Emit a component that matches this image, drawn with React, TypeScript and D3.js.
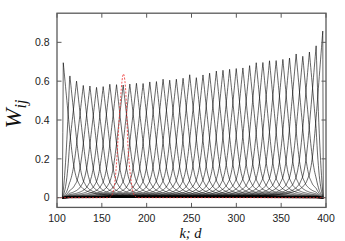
import React, { useEffect, useRef } from 'react';
import * as d3 from 'd3';

const WIDTH = 345;
const HEIGHT = 241;

// black peaks: centre (k) and height (W)
const peakCenters = [
  107.0, 114.4, 121.8, 129.3, 136.7, 144.1, 151.5, 158.9, 166.4, 173.8,
  181.2, 188.6, 196.0, 203.5, 210.9, 218.3, 225.7, 233.1, 240.6, 248.0,
  255.4, 262.8, 270.2, 277.7, 285.1, 292.5, 299.9, 307.3, 314.8, 322.2,
  329.6, 337.0, 344.4, 351.9, 359.3, 366.7, 374.1, 381.5, 389.0, 396.4,
];
const peakHeights = [
  0.695, 0.627, 0.600, 0.578, 0.575, 0.568, 0.572, 0.584, 0.582, 0.580,
  0.585, 0.589, 0.588, 0.596, 0.598, 0.610, 0.605, 0.610, 0.615, 0.633,
  0.618, 0.632, 0.641, 0.652, 0.656, 0.661, 0.665, 0.668, 0.680, 0.695,
  0.696, 0.705, 0.706, 0.712, 0.719, 0.740, 0.728, 0.750, 0.782, 0.858,
];

// shape of one peak: distance from its centre (in peak spacings) -> fraction of its height
const profileOffsets = [0, 0.25, 0.5, 0.75, 1, 1.25, 1.5, 1.75, 2, 2.5, 3, 3.5, 4, 5, 6, 8, 10, 15, 20, 40];
const profileValues = [1, 0.87, 0.74, 0.61, 0.48, 0.36, 0.26, 0.19, 0.14, 0.09, 0.065, 0.05, 0.04, 0.028, 0.02, 0.012, 0.008, 0.004, 0.002, 0.0005];

// range of k the black curves are defined on
const kLimits = [106, 397];

// red dashed curve
const redK = [100, 158, 161, 163, 165, 167, 169, 171, 172.5, 174, 175.5, 177, 178, 179, 180.5, 182, 183.5, 185, 187, 190, 400];
const redW = [0, 0, 0.01, 0.04, 0.1, 0.22, 0.38, 0.52, 0.6, 0.637, 0.61, 0.52, 0.4, 0.28, 0.18, 0.11, 0.06, 0.025, 0.008, 0, 0];

const xTicks = [100, 150, 200, 250, 300, 350, 400];
const yTicks = [0, 0.2, 0.4, 0.6, 0.8];
const yTickLabels = ['0', '0.2', '0.4', '0.6', '0.8'];

const App: React.FC = () => {
  const svgRef = useRef<SVGSVGElement>(null);

  useEffect(() => {
    if (!svgRef.current) return;
    const svg = d3.select(svgRef.current);
    svg.selectAll('*').remove();

    const left = 57, right = 326, top = 13.2, bottom = 207.4;

    const x = d3.scaleLinear().domain([100, 400]).range([left, right]);
    const y = d3.scaleLinear().domain([-0.05, 0.95]).range([bottom, top]);

    const spacing = (peakCenters[peakCenters.length - 1] - peakCenters[0]) / (peakCenters.length - 1);
    const profile = d3.scaleLinear().domain(profileOffsets).range(profileValues).clamp(true);
    const taperLen = 8;

    const line = d3.line<[number, number]>()
      .x(d => x(d[0]))
      .y(d => y(d[1]));

    const curves = svg.append('g');

    peakCenters.forEach((c, i) => {
      const h = peakHeights[i];
      const tl = Math.min(taperLen, c - kLimits[0]);
      const tr = Math.min(taperLen, kLimits[1] - c);
      const ks = d3.range(kLimits[0], kLimits[1], 0.5).concat([c, kLimits[1]]).sort((a, b) => a - b);
      const pts: [number, number][] = ks.map(k => {
        let f = 1;
        if (k < c) f = Math.min(1, (k - kLimits[0]) / tl);
        else f = Math.min(1, (kLimits[1] - k) / tr);
        return [k, h * profile(Math.abs(k - c) / spacing) * f];
      });
      curves.append('path')
        .attr('d', line(pts))
        .attr('fill', 'none')
        .attr('stroke', '#000')
        .attr('stroke-width', 0.6);
    });

    // red dashed curve
    const redLine = d3.line<number>()
      .x(d => x(d))
      .y((d, i) => y(redW[i]))
      .curve(d3.curveMonotoneX);

    svg.append('path')
      .attr('d', redLine(redK))
      .attr('fill', 'none')
      .attr('stroke', '#ee3030')
      .attr('stroke-width', 0.8)
      .attr('stroke-dasharray', '2,1.5');

    // frame
    svg.append('rect')
      .attr('x', left)
      .attr('y', top)
      .attr('width', right - left)
      .attr('height', bottom - top)
      .attr('fill', 'none')
      .attr('stroke', '#5a5a5a')
      .attr('stroke-width', 1.3);

    const tickLen = 4.5;
    const axisColor = '#5a5a5a';

    xTicks.forEach(t => {
      svg.append('line')
        .attr('x1', x(t)).attr('x2', x(t))
        .attr('y1', bottom).attr('y2', bottom - tickLen)
        .attr('stroke', axisColor).attr('stroke-width', 1);
      svg.append('line')
        .attr('x1', x(t)).attr('x2', x(t))
        .attr('y1', top).attr('y2', top + tickLen)
        .attr('stroke', axisColor).attr('stroke-width', 1);
      svg.append('text')
        .attr('x', x(t))
        .attr('y', 222.3)
        .attr('text-anchor', 'middle')
        .attr('font-family', '"Liberation Sans", Arial, sans-serif')
        .attr('font-size', 10.5)
        .attr('fill', '#222')
        .text(String(t));
    });

    yTicks.forEach((t, i) => {
      svg.append('line')
        .attr('x1', left).attr('x2', left + tickLen)
        .attr('y1', y(t)).attr('y2', y(t))
        .attr('stroke', axisColor).attr('stroke-width', 1);
      svg.append('line')
        .attr('x1', right).attr('x2', right - tickLen)
        .attr('y1', y(t)).attr('y2', y(t))
        .attr('stroke', axisColor).attr('stroke-width', 1);
      svg.append('text')
        .attr('x', 49.5)
        .attr('y', y(t) + 3.8)
        .attr('text-anchor', 'end')
        .attr('font-family', '"Liberation Sans", Arial, sans-serif')
        .attr('font-size', 10.5)
        .attr('fill', '#222')
        .text(yTickLabels[i]);
    });

    // axis titles
    const yTitle = svg.append('text')
      .attr('transform', 'translate(20.5,114) rotate(-90)')
      .attr('text-anchor', 'middle')
      .attr('font-family', '"Liberation Serif", "Times New Roman", serif')
      .attr('font-style', 'italic')
      .attr('fill', '#111');
    yTitle.append('tspan').attr('font-size', 24).text('W');
    yTitle.append('tspan').attr('font-size', 16).attr('dy', 5).text('ij');

    svg.append('text')
      .attr('x', 190.5)
      .attr('y', 238)
      .attr('text-anchor', 'middle')
      .attr('font-family', '"Liberation Serif", "Times New Roman", serif')
      .attr('font-style', 'italic')
      .attr('font-size', 14.5)
      .attr('fill', '#111')
      .text('k; d');
  }, []);

  return (
    <svg
      ref={svgRef}
      width={WIDTH}
      height={HEIGHT}
      style={{ position: 'absolute', left: 0, top: 0, background: '#fff' }}
    />
  );
};

export default App;
